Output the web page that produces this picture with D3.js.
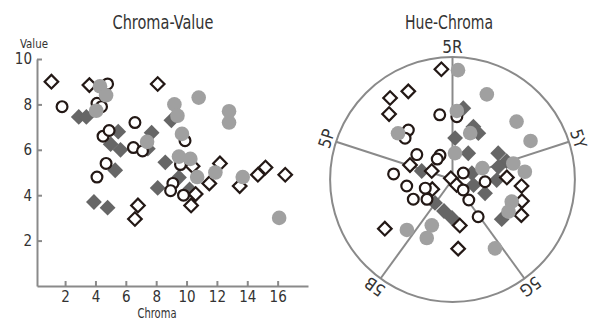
<!DOCTYPE html>
<html>
<head>
<meta charset="utf-8">
<script src="https://cdn.jsdelivr.net/npm/d3@7/dist/d3.min.js"></script>
<style>
  body { margin: 0; background: #fff; }
  svg { display: block; font-family: "DejaVu Sans Condensed", "DejaVu Sans", sans-serif; font-stretch: condensed; }
</style>
</head>
<body>
<svg id="chart" width="595" height="322"></svg>
<script>
// Chroma-Value panel, [chroma, value]
const cvOpenDiamond = [[1.1, 9.0], [3.6, 8.85], [8.1, 8.9], [12.2, 5.4], [10.4, 5.28], [11.5, 4.52],
  [10.6, 4.05], [10.3, 3.55], [6.8, 3.55], [6.6, 2.95], [13.5, 4.4], [14.7, 4.9], [15.2, 5.22], [16.5, 4.9]];
const cvOpenCircle = [[1.8, 7.9], [4.8, 8.9], [4.1, 8.05], [4.4, 7.9], [6.6, 7.2], [4.5, 6.6], [4.9, 6.85],
  [6.5, 6.1], [7.1, 5.95], [9.9, 6.4], [4.7, 5.4], [4.1, 4.8], [9.6, 5.35], [9.1, 4.52], [8.95, 4.2], [9.8, 4.0]];
const cvDarkDiamond = [[2.9, 7.45], [3.4, 7.45], [5.5, 6.8], [5.0, 6.25], [5.65, 6.0], [7.7, 6.75], [7.45, 6.05],
  [9.0, 7.3], [5.3, 5.1], [8.6, 5.45], [9.5, 4.78], [8.1, 4.32], [10.2, 4.25], [3.9, 3.7], [4.8, 3.45]];
const cvLightCircle = [[4.3, 8.8], [4.7, 8.4], [4.05, 7.72], [7.4, 6.35], [9.2, 8.0], [9.4, 7.5], [10.8, 8.3],
  [9.7, 6.7], [12.8, 7.7], [12.8, 7.2], [9.5, 5.7], [10.25, 5.6], [10.7, 4.8], [11.9, 5.0], [13.7, 4.8], [16.1, 3.0]];

// Hue-Chroma panel, [hue (Munsell 0-100, 5R = 5), chroma]
const hcOpenDiamond = [[3.4, 16.3], [97.6, 14.5], [94.6, 15.1], [92.75, 13.4], [85.2, 6.6], [86.2, 3.3], [90, 0.3],
  [44.6, 1.0], [72.9, 3.3], [29.4, 8.0], [31.5, 10.2], [34.8, 10.7], [37.6, 11.4], [52.5, 6.85], [70, 12.3], [53.7, 10.2]];
const hcOpenCircle = [[1.9, 9.7], [6.1, 9.25], [93.4, 9.75], [91.4, 9.25], [89.7, 6.4], [97.4, 4.0], [94.8, 3.75],
  [81.5, 8.7], [21.4, 1.85], [77.75, 6.8], [75.1, 4.2], [72.6, 6.45], [69.5, 4.75], [42.3, 2.2], [44.3, 3.85],
  [31.1, 4.8], [45.4, 6.65]];
const hcDarkDiamond = [[7.4, 10.6], [11.0, 8.35], [13.1, 7.8], [6.0, 6.1], [13.6, 4.5], [21.7, 7.75], [24.8, 8.4],
  [84.3, 4.7], [25.0, 3.0], [25.7, 7.0], [65.2, 4.3], [59.2, 4.8], [55.2, 5.66], [36.4, 5.2], [30.2, 6.5],
  [40.8, 9.3], [34.1, 3.2]];
const hcLightCircle = [[5.8, 16.1], [11.1, 13.5], [6.0, 10.1], [91.2, 10.5], [10.8, 7.3], [18.3, 12.7], [22.7, 12.8],
  [6.5, 3.9], [25.9, 9.25], [24.2, 4.7], [28.3, 10.7], [35.7, 9.3], [38.3, 9.5], [66.7, 10.0], [61.75, 7.4],
  [61.6, 9.4], [46.2, 11.9]];

const chromaTicks = [2, 4, 6, 8, 10, 12, 14, 16];
const valueTicks = [2, 4, 6, 8, 10];
const hueTicks = [5, 25, 45, 65, 85];
const hueLabels = ['5R', '5Y', '5G', '5B', '5P'];

const ink = '#231815';
const axisGray = '#8a8a8a';
const darkFill = '#666666';
const lightFill = '#a0a0a0';
const textFill = '#333';

const svg = d3.select('#chart');

// marker painter, shared by both panels
const diamond = (size) => d3.symbol().type(d3.symbolSquare).size(size);
const drawMarks = (g, data, kind, pos) => {
  const sel = g.append('g').selectAll('path').data(data).enter().append('path')
      .attr('transform', d => {
        const p = pos(d);
        return `translate(${p[0]},${p[1]})` + (kind.includes('Diamond') ? ' rotate(45)' : '');
      });
  if (kind === 'openDiamond') {
    sel.attr('d', diamond(92)()).attr('fill', '#fff').attr('stroke', ink).attr('stroke-width', 2.2);
  } else if (kind === 'darkDiamond') {
    sel.attr('d', diamond(125)()).attr('fill', darkFill);
  } else if (kind === 'openCircle') {
    sel.attr('d', d3.symbol().type(d3.symbolCircle).size(Math.PI * 5.4 * 5.4)()).attr('fill', '#fff')
        .attr('stroke', ink).attr('stroke-width', 2.2);
  } else {
    sel.attr('d', d3.symbol().type(d3.symbolCircle).size(Math.PI * 7.3 * 7.3)()).attr('fill', lightFill);
  }
};

// narrow, tall lettering like the original's gothic face
const squeeze = (sel, w) => sel.attr('textLength', w).attr('lengthAdjust', 'spacingAndGlyphs');

// ---------- left: Chroma-Value ----------
const x = d3.scaleLinear().domain([0.15, 18]).range([37, 308]);
const y = d3.scaleLinear().domain([0, 10]).range([286, 59]);

const left = svg.append('g');

const styleAxis = (g) => {
  g.select('.domain').attr('stroke', axisGray).attr('stroke-width', 2);
  g.selectAll('.tick line').attr('stroke', axisGray).attr('stroke-width', 2);
  g.selectAll('.tick text').attr('fill', textFill).style('font-size', '15px')
      .style('font-family', '"DejaVu Sans Condensed", "DejaVu Sans", sans-serif');
};

left.append('g')
    .attr('transform', `translate(${x.range()[0]},0)`)
    .call(d3.axisLeft(y).tickValues(valueTicks).tickSizeInner(-5).tickSizeOuter(0).tickPadding(5))
    .call(styleAxis);

left.append('g')
    .attr('transform', `translate(0,${y.range()[0]})`)
    .call(d3.axisBottom(x).tickValues(chromaTicks).tickSizeInner(-5).tickSizeOuter(0).tickPadding(5))
    .call(styleAxis);

left.append('text').attr('x', 163).attr('y', 29).attr('text-anchor', 'middle')
    .attr('font-size', 19).attr('fill', textFill).text('Chroma-Value')
    .call(squeeze, 101);
left.append('text').attr('x', 34).attr('y', 48).attr('text-anchor', 'middle')
    .attr('font-size', 13).attr('fill', textFill).text('Value')
    .call(squeeze, 28);
left.append('text').attr('x', 157).attr('y', 318).attr('text-anchor', 'middle')
    .attr('font-size', 14).attr('fill', textFill).text('Chroma')
    .call(squeeze, 39);

const cvPos = d => [x(d[0]), y(d[1])];
drawMarks(left, cvDarkDiamond, 'darkDiamond', cvPos);
drawMarks(left, cvOpenDiamond, 'openDiamond', cvPos);
drawMarks(left, cvOpenCircle, 'openCircle', cvPos);
drawMarks(left, cvLightCircle, 'lightCircle', cvPos);

// ---------- right: Hue-Chroma (polar) ----------
const cx = 452.5, cy = 179.5;
const rMax = 122.4;
const angle = d3.scaleLinear().domain([0, 100]).range([-Math.PI / 10, 2 * Math.PI - Math.PI / 10]);
const radius = d3.scaleLinear().domain([0, 18]).range([0, rMax]);

const right = svg.append('g').attr('transform', `translate(${cx},${cy})`);

right.append('circle').attr('r', rMax).attr('fill', 'none')
    .attr('stroke', axisGray).attr('stroke-width', 2);

right.selectAll('line.spoke').data(hueTicks).enter().append('line')
    .attr('class', 'spoke')
    .attr('x1', 0).attr('y1', 0)
    .attr('x2', h => rMax * Math.sin(angle(h)))
    .attr('y2', h => -rMax * Math.cos(angle(h)))
    .attr('stroke', axisGray).attr('stroke-width', 2);

right.selectAll('text.hue').data(hueTicks).enter().append('text')
    .attr('class', 'hue')
    .attr('transform', h => `rotate(${angle(h) * 180 / Math.PI}) translate(0,${-(rMax + 4)})`)
    .attr('text-anchor', 'middle')
    .attr('font-size', 17).attr('fill', textFill)
    .text((h, i) => hueLabels[i]);

svg.append('text').attr('x', 449).attr('y', 29).attr('text-anchor', 'middle')
    .attr('font-size', 19).attr('fill', textFill).text('Hue-Chroma')
    .call(squeeze, 88);

const hcPos = d => {
  const a = angle(d[0]), r = radius(d[1]);
  return [r * Math.sin(a), -r * Math.cos(a)];
};
drawMarks(right, hcDarkDiamond, 'darkDiamond', hcPos);
drawMarks(right, hcOpenDiamond, 'openDiamond', hcPos);
drawMarks(right, hcOpenCircle, 'openCircle', hcPos);
drawMarks(right, hcLightCircle, 'lightCircle', hcPos);
</script>
</body>
</html>
